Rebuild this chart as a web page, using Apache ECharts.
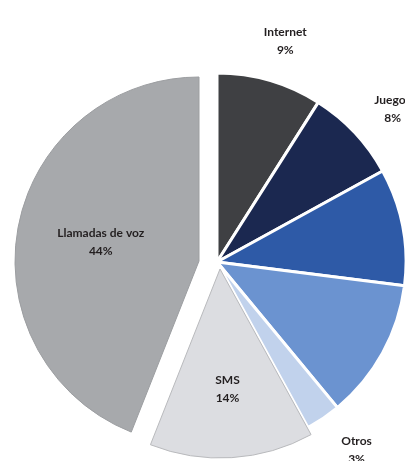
<!DOCTYPE html>
<html>
<head>
<meta charset="utf-8">
<style>
  html, body { margin: 0; padding: 0; background: #ffffff; }
  #chart { width: 405px; height: 461px; }
</style>
<script src="https://cdn.jsdelivr.net/npm/echarts@6/dist/echarts.min.js"></script>
</head>
<body>
<div id="chart"></div>
<script>
// Service categories and their share of usage (%), clockwise from the top
const categories = ['Internet', 'Juegos', 'Servicio A', 'Servicio B', 'Otros', 'SMS', 'Llamadas de voz'];
const shares = [9, 8, 10, 12, 3, 14, 44];
// Which categories carry a visible label
const labelled = [true, true, false, false, true, true, true];

const palette = ['#3f4043', '#1b2850', '#2e5aa7', '#6b93d0', '#c1d2ec', '#dcdde1', '#a7a9ac'];
// Small hand adjustments of the outer labels, in pixels
const labelNudge = [[3, 4], [5, 7], [0, 0], [0, 0], [8, -5], [0, 0], [0, 0]];

// The pie is drawn in three groups: the main block, and the two pulled-out slices
const groups = [
  { members: [0, 1, 2, 3, 4], center: [217, 262], r: 189, labelR: 231, border: '#ffffff', borderW: 3 },
  { members: [5], center: [220, 269], r: 189, labelR: 117, border: '#b9babd', borderW: 1 },
  { members: [6], center: [199, 261], r: 184, labelR: 97, border: '#9c9ea1', borderW: 1 }
];

const hidden = { color: 'rgba(0,0,0,0)', borderWidth: 0 };
const labelFont = {
  color: '#231f20',
  fontFamily: 'Lato, "Open Sans", sans-serif',
  fontSize: 12,
  fontWeight: 'bold',
  lineHeight: 18
};

const series = [];
groups.forEach(function (g) {
  // slice shapes
  series.push({
    type: 'pie',
    silent: true,
    center: g.center,
    radius: [0, g.r],
    startAngle: 90,
    clockwise: true,
    animation: false,
    label: { show: false },
    labelLine: { show: false },
    data: categories.map(function (name, i) {
      const own = g.members.indexOf(i) >= 0;
      return {
        name: name,
        value: shares[i],
        itemStyle: own
          ? { color: palette[i], borderColor: g.border, borderWidth: g.borderW }
          : hidden
      };
    })
  });
  // labels, placed on a transparent ring at the label radius
  series.push({
    type: 'pie',
    silent: true,
    center: g.center,
    radius: [g.labelR - 10, g.labelR + 10],
    startAngle: 90,
    clockwise: true,
    animation: false,
    labelLine: { show: false },
    label: Object.assign({
      show: true,
      position: 'inside',
      formatter: function (p) { return p.name + '\n' + p.value + '%'; }
    }, labelFont),
    labelLayout: function (p) {
      const n = labelNudge[p.dataIndex];
      return { dx: n[0], dy: n[1] };
    },
    data: categories.map(function (name, i) {
      const own = g.members.indexOf(i) >= 0 && labelled[i];
      return {
        name: name,
        value: shares[i],
        itemStyle: hidden,
        label: { show: own }
      };
    })
  });
});

const chart = echarts.init(document.getElementById('chart'), null, { renderer: 'canvas' });
chart.setOption({
  backgroundColor: '#ffffff',
  series: series
});
</script>
</body>
</html>
